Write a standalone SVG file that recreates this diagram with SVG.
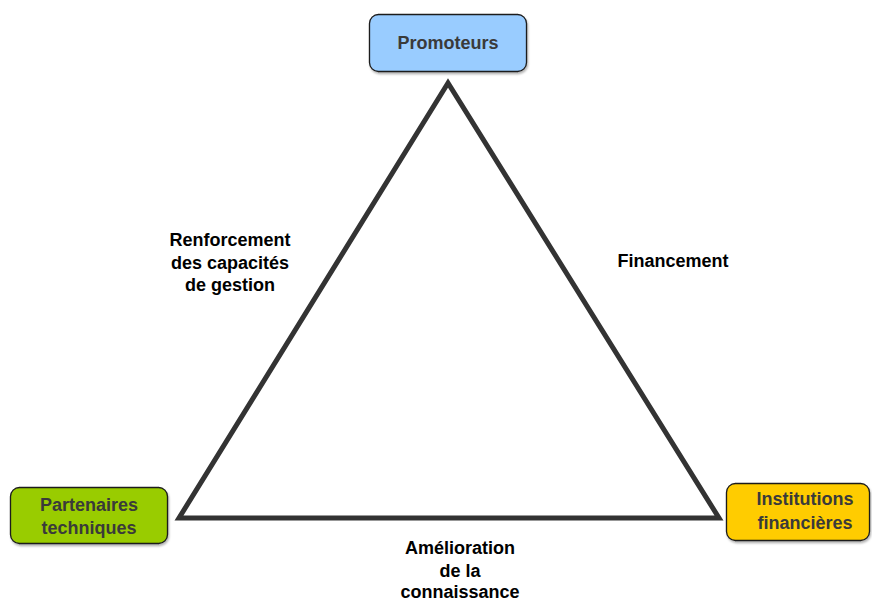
<svg xmlns="http://www.w3.org/2000/svg" width="872" height="601" viewBox="0 0 872 601">
  <style>
    .box { stroke: #1a1a1a; stroke-width: 1.3; }
    .node-text { font-family: "Liberation Sans", Arial, sans-serif; font-weight: bold; font-size: 18px; fill: #3a3a3a; text-anchor: middle; }
    .label { font-family: "Liberation Sans", Arial, sans-serif; font-weight: bold; font-size: 18px; fill: #000; text-anchor: middle; }
    .edge { fill: none; stroke: #333; stroke-width: 5; stroke-linejoin: miter; }
  </style>
  <defs>
    <filter id="shadow" x="-10%" y="-10%" width="120%" height="130%">
      <feDropShadow dx="1" dy="2" stdDeviation="1" flood-color="#000" flood-opacity="0.3"/>
    </filter>
  </defs>
  <rect width="872" height="601" fill="#fff"/>

  <g id="connectors">
    <polygon class="edge" points="448,83 179,518 719,518"/>
  </g>

  <g id="promoteurs">
    <rect class="box" x="369.5" y="14.5" width="157" height="57" rx="9" fill="#99ccff" filter="url(#shadow)"/>
    <text class="node-text" x="448" y="49">Promoteurs</text>
  </g>

  <g id="partenaires">
    <rect class="box" x="10.5" y="487.5" width="157" height="56" rx="9" fill="#99cc00" filter="url(#shadow)"/>
    <text class="node-text" x="89" y="511">Partenaires</text>
    <text class="node-text" x="89" y="534">techniques</text>
  </g>

  <g id="institutions">
    <rect class="box" x="726.5" y="483.5" width="143" height="57" rx="9" fill="#ffcc00" filter="url(#shadow)"/>
    <text class="node-text" x="805" y="505">Institutions</text>
    <text class="node-text" x="805" y="529">financières</text>
  </g>

  <g id="labels">
    <text class="label" x="230" y="246">Renforcement</text>
    <text class="label" x="230" y="269">des capacités</text>
    <text class="label" x="230" y="291">de gestion</text>
    <text class="label" x="673" y="267">Financement</text>
    <text class="label" x="460" y="554">Amélioration</text>
    <text class="label" x="460" y="577">de la</text>
    <text class="label" x="460" y="598">connaissance</text>
  </g>
</svg>
